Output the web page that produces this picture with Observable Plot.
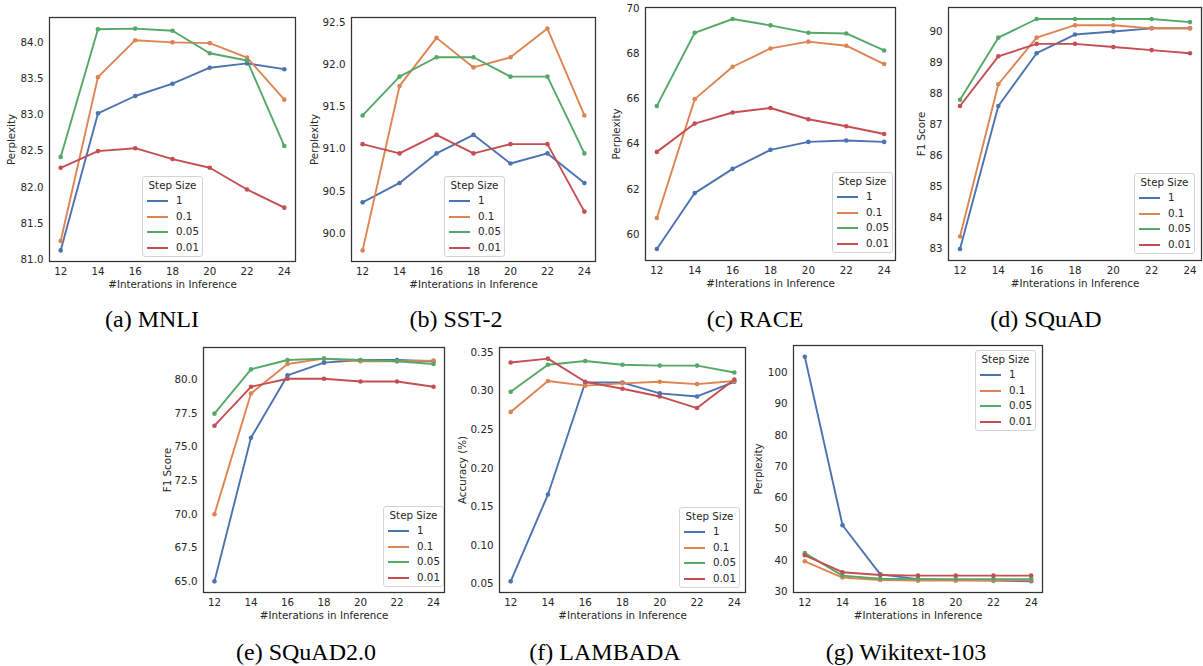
<!DOCTYPE html>
<html>
<head>
<meta charset="utf-8">
<script src="https://cdn.jsdelivr.net/npm/d3@7"></script>
<script src="https://cdn.jsdelivr.net/npm/@observablehq/plot@0.6"></script>
<style>
  html, body { margin: 0; padding: 0; background: #fff; }
  #fig { position: relative; width: 1203px; height: 666px; background: #fff; overflow: hidden; }
  .panel { position: absolute; }
  .legend { position: absolute; box-sizing: border-box; width: 61px; height: 81px;
    border: 1px solid #d4d4d4; border-radius: 3px; background: rgba(255,255,255,0.85);
    font-family: "DejaVu Sans", sans-serif; font-size: 10.3px; color: #262626; padding-top: 0.5px; }
  .legend .ttl { height: 15.6px; line-height: 15.6px; text-align: center; }
  .legend .row { height: 15.6px; line-height: 15.6px; white-space: nowrap; }
  .legend .sw { display: inline-block; width: 21px; height: 2px; margin-left: 4px; margin-right: 8px; vertical-align: middle; }
  .cap { position: absolute; width: 300px; text-align: center; font-family: "Liberation Serif", "Times New Roman", serif;
    font-size: 24px; line-height: 24px; color: #000; white-space: nowrap; }
</style>
</head>
<body>
<div id="fig"></div>
<script>
// ---------- data ----------
const iterations = [12, 14, 16, 18, 20, 22, 24];
const stepSizes = ["1", "0.1", "0.05", "0.01"];
const stepColors = ["#4c72b0", "#dd8452", "#55a868", "#c44e52"];

// (a) MNLI  – series in order of stepSizes
const mnli_1    = [81.13, 83.02, 83.26, 83.43, 83.65, 83.71, 83.63];
const mnli_01   = [81.26, 83.52, 84.03, 84.00, 83.99, 83.79, 83.21];
const mnli_005  = [82.42, 84.18, 84.19, 84.16, 83.85, 83.75, 82.57];
const mnli_001  = [82.27, 82.50, 82.54, 82.39, 82.27, 81.97, 81.72];
// (b) SST-2
const sst2_1    = [90.37, 90.60, 90.95, 91.17, 90.83, 90.95, 90.60];
const sst2_01   = [89.80, 91.75, 92.32, 91.97, 92.09, 92.43, 91.40];
const sst2_005  = [91.40, 91.86, 92.09, 92.09, 91.86, 91.86, 90.95];
const sst2_001  = [91.06, 90.95, 91.17, 90.95, 91.06, 91.06, 90.26];
// (c) RACE
const race_1    = [59.37, 61.84, 62.91, 63.75, 64.10, 64.16, 64.10];
const race_01   = [60.74, 65.99, 67.42, 68.23, 68.53, 68.35, 67.54];
const race_005  = [65.69, 68.92, 69.53, 69.25, 68.92, 68.89, 68.14];
const race_001  = [63.66, 64.91, 65.40, 65.60, 65.10, 64.79, 64.45];
// (d) SQuAD
const squad_1   = [83.0, 87.6, 89.3, 89.9, 90.0, 90.1, 90.1];
const squad_01  = [83.4, 88.3, 89.8, 90.2, 90.2, 90.1, 90.1];
const squad_005 = [87.8, 89.8, 90.4, 90.4, 90.4, 90.4, 90.3];
const squad_001 = [87.6, 89.2, 89.6, 89.6, 89.5, 89.4, 89.3];
// (e) SQuAD2.0
const squad2_1   = [65.0, 75.7, 80.35, 81.3, 81.5, 81.5, 81.4];
const squad2_01  = [70.0, 79.0, 81.2, 81.6, 81.4, 81.4, 81.45];
const squad2_005 = [77.5, 80.8, 81.5, 81.6, 81.5, 81.4, 81.2];
const squad2_001 = [76.6, 79.5, 80.1, 80.1, 79.9, 79.9, 79.5];
// (f) LAMBADA
const lambada_1   = [0.0535, 0.166, 0.311, 0.311, 0.297, 0.293, 0.312];
const lambada_01  = [0.273, 0.313, 0.307, 0.310, 0.312, 0.309, 0.313];
const lambada_005 = [0.299, 0.334, 0.339, 0.334, 0.333, 0.333, 0.324];
const lambada_001 = [0.337, 0.342, 0.312, 0.303, 0.293, 0.278, 0.315];
// (g) Wikitext-103
const wiki_1   = [105.1, 51.2, 35.5, 34.0, 33.7, 33.5, 33.3];
const wiki_01  = [39.7, 34.5, 33.7, 33.5, 33.5, 33.6, 33.6];
const wiki_005 = [42.3, 35.1, 34.1, 34.0, 34.0, 34.0, 34.0];
const wiki_001 = [41.6, 36.2, 35.3, 35.1, 35.1, 35.1, 35.1];

// tick labels
const ticksMnli   = [81.0, 81.5, 82.0, 82.5, 83.0, 83.5, 84.0];
const ticksSst2   = [90.0, 90.5, 91.0, 91.5, 92.0, 92.5];
const ticksRace   = [60, 62, 64, 66, 68, 70];
const ticksSquad  = [83, 84, 85, 86, 87, 88, 89, 90];
const ticksSquad2 = [65.0, 67.5, 70.0, 72.5, 75.0, 77.5, 80.0];
const ticksLamb   = [0.05, 0.10, 0.15, 0.20, 0.25, 0.30, 0.35];
const ticksWiki   = [30, 40, 50, 60, 70, 80, 90, 100];

const xLabel = "#Interations in Inference";
const legendTitle = "Step Size";

// ---------- layout ----------
const panels = [
  {series: [mnli_1, mnli_01, mnli_005, mnli_001], L: 49, R: 295, T: 17, B: 261, ticks: ticksMnli, fmt: ".1f",
   ylabel: "Perplexity", ylo: 41.5, leg: [142, 176], caption: "(a) MNLI", cx: 152, cb: 327},
  {series: [sst2_1, sst2_01, sst2_005, sst2_001], L: 351, R: 595, T: 17, B: 261, ticks: ticksSst2, fmt: ".1f",
   ylabel: "Perplexity", ylo: 40.5, leg: [444, 176], caption: "(b) SST-2", cx: 456, cb: 327},
  {series: [race_1, race_01, race_005, race_001], L: 645, R: 895, T: 7, B: 260, ticks: ticksRace, fmt: "d",
   ylabel: "Perplexity", ylo: 32.5, leg: [832, 172], caption: "(c) RACE", cx: 755, cb: 327},
  {series: [squad_1, squad_01, squad_005, squad_001], L: 948, R: 1201, T: 7, B: 260, ticks: ticksSquad, fmt: "d",
   ylabel: "F1 Score", ylo: 31, leg: [1134, 173], caption: "(d) SQuAD", cx: 1046, cb: 327},
  {series: [squad2_1, squad2_01, squad2_005, squad2_001], L: 203, R: 444, T: 347, B: 592, ticks: ticksSquad2, fmt: ".1f",
   ylabel: "F1 Score", ylo: 40, leg: [383, 506], caption: "(e) SQuAD2.0", cx: 306, cb: 660},
  {series: [lambada_1, lambada_01, lambada_005, lambada_001], L: 499, R: 745, T: 347, B: 592, ticks: ticksLamb, fmt: ".2f",
   ylabel: "Accuracy (%)", ylo: 40.5, leg: [679, 507], caption: "(f) LAMBADA", cx: 605, cb: 660},
  {series: [wiki_1, wiki_01, wiki_005, wiki_001], L: 793, R: 1042, T: 345, B: 592, ticks: ticksWiki, fmt: "d",
   ylabel: "Perplexity", ylo: 38.5, leg: [975, 350], caption: "(g) Wikitext-103", cx: 906, cb: 660}
];

const fig = document.getElementById("fig");
const ml = 52, mr = 2, mt = 3, mb = 34;

function padDomain(lo, hi) { const r = hi - lo; return [lo - 0.05 * r, hi + 0.05 * r]; }

for (const p of panels) {
  const rows = [];
  p.series.forEach((vals, si) => vals.forEach((v, i) => rows.push({iter: iterations[i], value: v, step: stepSizes[si]})));
  const yDom = padDomain(d3.min(rows, d => d.value), d3.max(rows, d => d.value));
  const xDom = padDomain(d3.min(iterations), d3.max(iterations));

  const chart = Plot.plot({
    width: (p.R - p.L) + ml + mr,
    height: (p.B - p.T) + mt + mb,
    marginLeft: ml, marginRight: mr, marginTop: mt, marginBottom: mb,
    style: {fontFamily: "DejaVu Sans, sans-serif", fontSize: "10.3px", color: "#262626", background: "transparent", overflow: "visible"},
    x: {domain: xDom, ticks: iterations, tickFormat: "d", tickSize: 0, tickPadding: 6.5,
        label: xLabel, labelAnchor: "center", labelOffset: 26.5, labelArrow: "none"},
    y: {domain: yDom, ticks: p.ticks, tickFormat: p.fmt, tickSize: 0, tickPadding: 6,
        label: p.ylabel, labelAnchor: "center", labelOffset: p.ylo, labelArrow: "none"},
    color: {domain: stepSizes, range: stepColors},
    marks: [
      Plot.line(rows, {x: "iter", y: "value", stroke: "step", z: "step", strokeWidth: 1.9}),
      Plot.dot(rows, {x: "iter", y: "value", fill: "step", r: 2.3}),
      Plot.frame({stroke: "#333", strokeWidth: 1.25})
    ]
  });
  const wrap = document.createElement("div");
  wrap.className = "panel";
  wrap.style.left = (p.L - ml) + "px";
  wrap.style.top = (p.T - mt) + "px";
  wrap.appendChild(chart);
  fig.appendChild(wrap);

  // legend
  const leg = document.createElement("div");
  leg.className = "legend";
  leg.style.left = p.leg[0] + "px";
  leg.style.top = p.leg[1] + "px";
  let html = `<div class="ttl">${legendTitle}</div>`;
  stepSizes.forEach((s, i) => {
    html += `<div class="row"><span class="sw" style="background:${stepColors[i]}"></span>${s}</div>`;
  });
  leg.innerHTML = html;
  fig.appendChild(leg);

  // caption
  const cap = document.createElement("div");
  cap.className = "cap";
  cap.textContent = p.caption;
  cap.style.left = (p.cx - 150) + "px";
  cap.style.top = (p.cb - 20) + "px";
  fig.appendChild(cap);
}
</script>
</body>
</html>
